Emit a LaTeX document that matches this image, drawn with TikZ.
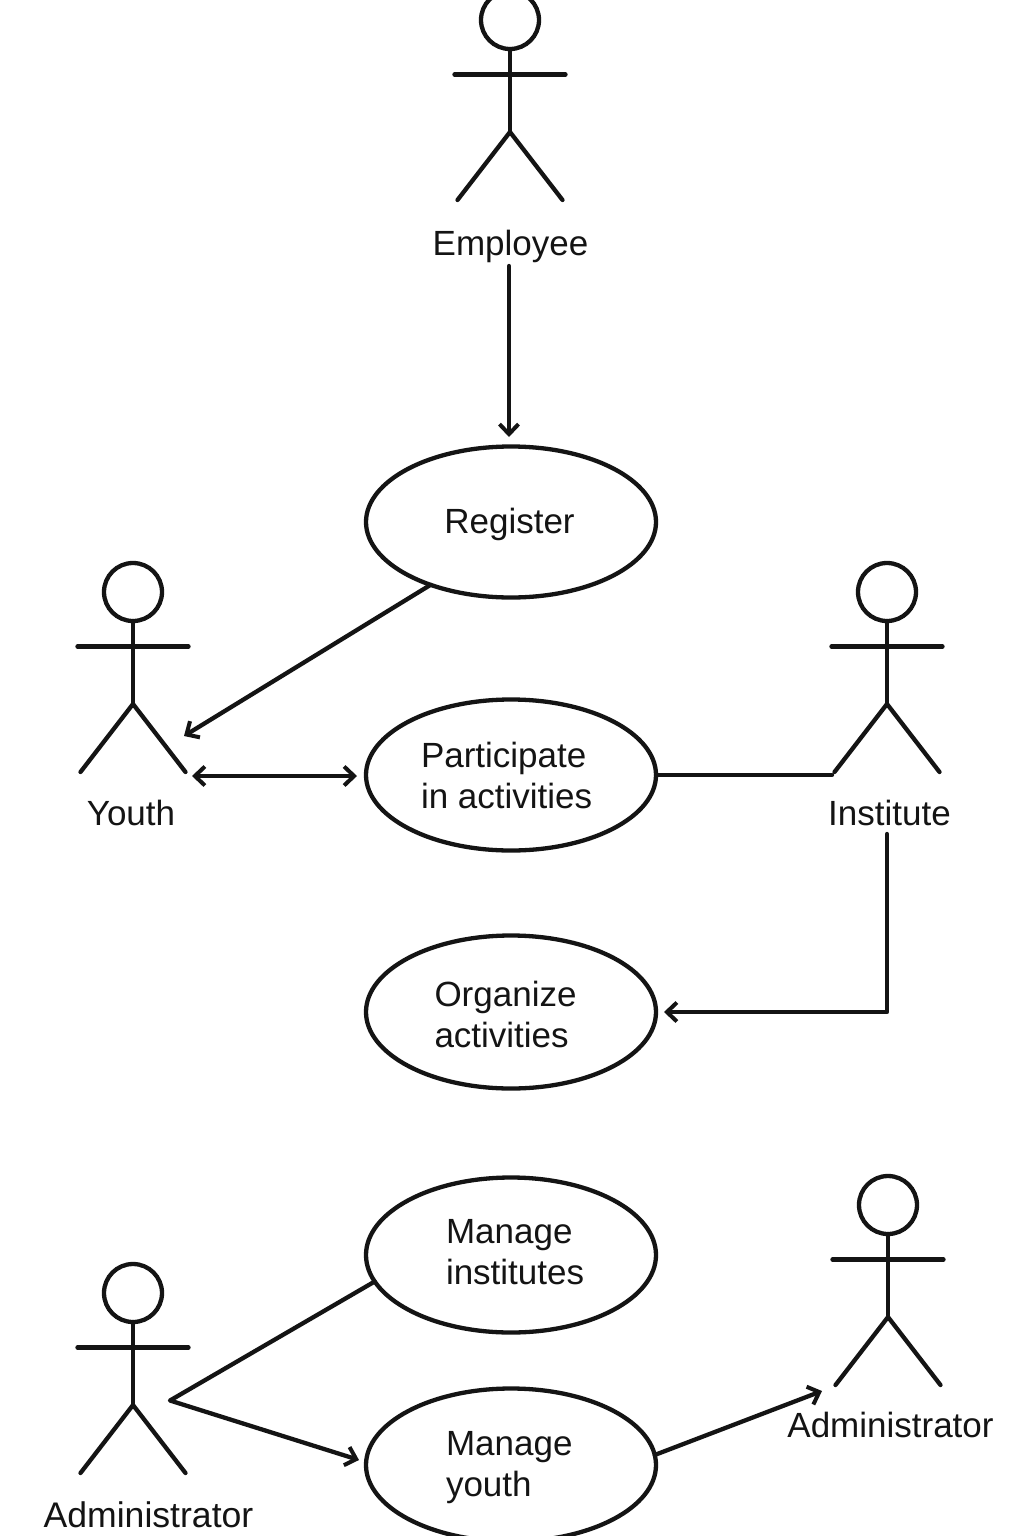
\documentclass[tikz,border=0pt]{standalone}
\usepackage{fontspec}
\setmainfont{Liberation Sans}
\usetikzlibrary{shapes.geometric,arrows.meta}
\definecolor{ink}{HTML}{141414}
\tikzset{
  x=1pt,y=-1pt,
  every node/.style={inner sep=0pt,outer sep=0pt,text=ink},
  line/.style={draw=ink,line width=4.3pt,line cap=round,line join=round},
  usecase/.style={ellipse,draw=ink,line width=4.3pt,minimum width=290pt},
  head/.style={circle,draw=ink,line width=4.3pt,minimum size=58pt},
  lbl/.style={font=\fontsize{35}{41}\selectfont,anchor=base},
  mlbl/.style={font=\fontsize{35}{41}\selectfont,anchor=base west,align=left},
  arr/.style={line,-{Straight Barb[length=10pt,width=19pt,line width=4pt]}},
  dbl/.style={line,{Straight Barb[length=10pt,width=19pt,line width=4pt]}-{Straight Barb[length=10pt,width=19pt,line width=4pt]}}
}
\newcommand{\stickman}[3]{% name, head x, head y
  \node[head] (#1h) at (#2,#3) {};
  \coordinate (#1la) at (#2-55.5,#3+54.5);
  \coordinate (#1ra) at (#2+55.5,#3+54.5);
  \coordinate (#1hip) at (#2,#3+112);
  \coordinate (#1ll) at (#2-52.5,#3+180);
  \coordinate (#1rl) at (#2+52.5,#3+180);
  \draw[line] (#1h.south) -- (#1hip);
  \draw[line] (#1la) -- (#1ra);
  \draw[line] (#1ll) -- (#1hip) -- (#1rl);
}
\begin{document}
\begin{tikzpicture}
\path[use as bounding box,clip] (0,0) rectangle (1024,1536);
\fill[white] (0,0) rectangle (1024,1536);

\stickman{emp}{510}{20}
\stickman{you}{133}{592}
\stickman{ins}{887}{592}
\stickman{adl}{133}{1293}
\stickman{adr}{888}{1205}

\node[lbl] (empl) at (510.5,255.5) {Employee};
\node[lbl] (youl) at (131,825.5) {Youth};
\node[lbl] (insl) at (889.5,825.5) {Institute};
\node[lbl,font=\fontsize{35.6}{41}\selectfont] (adll) at (148.5,1527) {Administrator};
\node[lbl] (adrl) at (890.5,1437.5) {Administrator};

\node[usecase,minimum height=151pt] (reg) at (511,522) {};
\node[usecase,minimum height=151pt] (par) at (511,775) {};
\node[usecase,minimum height=153pt] (org) at (511,1012) {};
\node[usecase,minimum height=155pt] (mi) at (511,1255) {};
\node[usecase,minimum height=153pt] (my) at (511,1465) {};

\node[lbl] (regt) at (509.5,533.5) {Register};
\node[mlbl] (part) at (421,808.5) {Participate\\in activities};
\node[mlbl] (orgt) at (434.5,1047.5) {Organize\\activities};
\node[mlbl] (mit) at (446,1284.5) {Manage\\institutes};
\node[mlbl] (myt) at (446,1496.5) {Manage\\youth};

\coordinate (a1s) at (509,266);
\coordinate (a1e) at (509,437);
\coordinate (a2e) at (184,736);
\coordinate (a3s) at (192,776);
\coordinate (a3e) at (357,776);
\coordinate (a4e) at (832,775);
\coordinate (a5s) at (887,834);
\coordinate (a5e) at (664,1012);
\coordinate (fork) at (170,1400.5);
\coordinate (a6e) at (359,1460);
\coordinate (a7e) at (822,1391);

\draw[arr] (a1s) -- (a1e);
\draw[arr] (reg.218.7) -- (a2e);
\draw[dbl] (a3s) -- (a3e);
\draw[line] (par.east) -- (a4e);
\draw[arr] (a5s) |- (a5e);
\draw[arr] (mi.191) -- (fork) -- (a6e);
\draw[arr] (my.4.7) -- (a7e);
\end{tikzpicture}
\end{document}
